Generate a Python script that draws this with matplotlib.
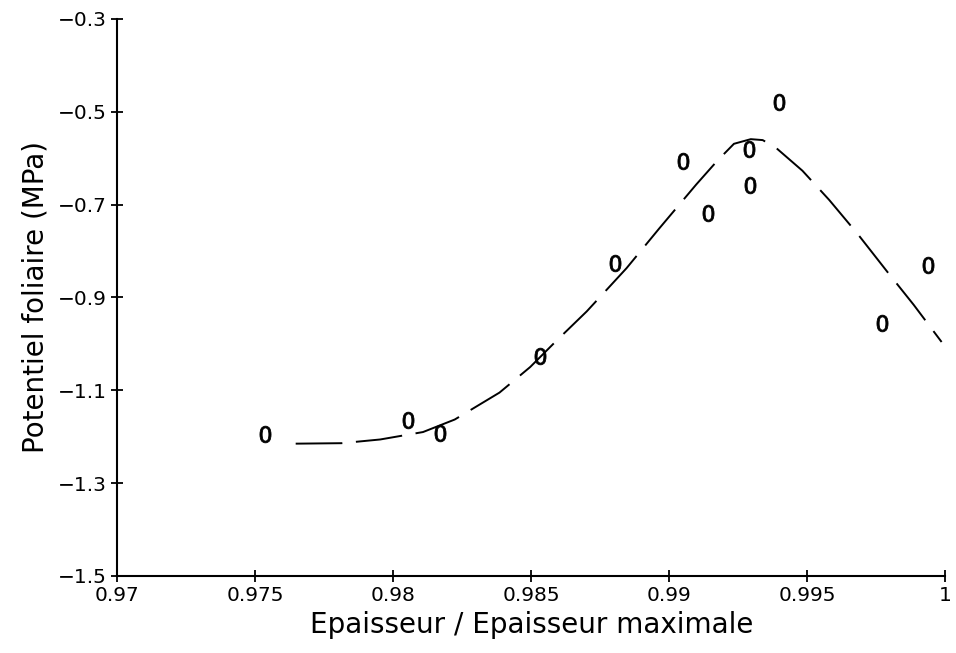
import numpy as np
import matplotlib
matplotlib.use("Agg")
import matplotlib.pyplot as plt

## Data ########################

# measured points
x_pts = [0.97536, 0.98054, 0.98169, 0.98532, 0.98802, 0.99050,
         0.99140, 0.99288, 0.99291, 0.99396, 0.99935, 0.99770]
y_pts = [-1.195, -1.164, -1.193, -1.027, -0.825, -0.607,
         -0.719, -0.580, -0.658, -0.480, -0.830, -0.954]

# fitted curve
x_fit = [0.97647, 0.97813, 0.97953, 0.98108, 0.98223, 0.98385, 0.98496,
         0.98590, 0.98701, 0.98845, 0.98964, 0.99097, 0.99173, 0.99234,
         0.99295, 0.99338, 0.99385, 0.99482, 0.99579, 0.99683, 0.99791,
         0.99885, 0.99986]
y_fit = [-1.215, -1.214, -1.206, -1.190, -1.163, -1.105, -1.050,
         -0.994, -0.930, -0.837, -0.751, -0.657, -0.606, -0.569,
         -0.559, -0.561, -0.577, -0.627, -0.690, -0.764, -0.846,
         -0.916, -0.996]

x_ticks = [0.97, 0.975, 0.98, 0.985, 0.99, 0.995, 1.0]
x_tick_labels = ["0.97", "0.975", "0.98", "0.985", "0.99", "0.995", "1"]
y_ticks = [-1.5, -1.3, -1.1, -0.9, -0.7, -0.5, -0.3]
y_tick_labels = ["\u22121.5", "\u22121.3", "\u22121.1", "\u22120.9",
                 "\u22120.7", "\u22120.5", "\u22120.3"]

## Plot ########################

fig = plt.figure(figsize=(9.56, 6.53), dpi=100)
ax = fig.add_axes([0.1224, 0.118, 0.8666, 0.853])

ax.plot(x_fit, y_fit, 'k-', linewidth=1.4, dashes=(24, 7))
ax.plot(x_pts, y_pts, linestyle='none', marker='$0$', markersize=12,
        color='k', markeredgewidth=0.6)

ax.set_xlim(0.97, 1.0)
ax.set_ylim(-1.5, -0.3)
ax.set_xticks(x_ticks)
ax.set_xticklabels(x_tick_labels)
ax.set_yticks(y_ticks)
ax.set_yticklabels(y_tick_labels)

for side in ['top', 'right']:
    ax.spines[side].set_visible(False)
for side in ['left', 'bottom']:
    ax.spines[side].set_linewidth(1.5)

ax.tick_params(direction='inout', length=9, width=1.3, labelsize=14.5, pad=3)
ax.set_xlabel("Epaisseur / Epaisseur maximale", fontsize=20, labelpad=4)
ax.set_ylabel("Potentiel foliaire (MPa)", fontsize=20, labelpad=6)

fig.savefig("out.png", dpi=100)
